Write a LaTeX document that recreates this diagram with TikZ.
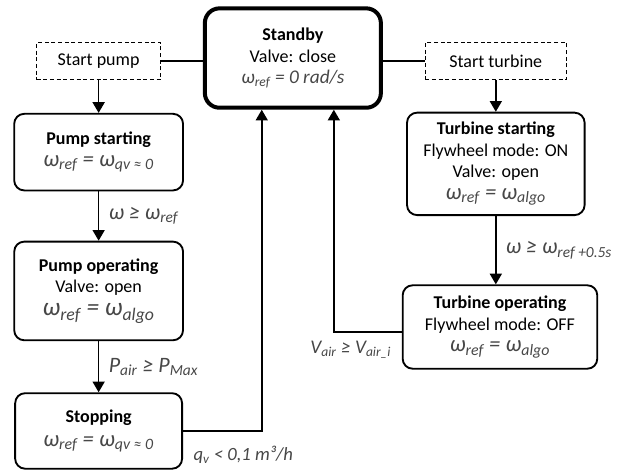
\documentclass[tikz,border=0pt]{standalone}
\usepackage{fontspec}
\setmainfont{Carlito}
\usetikzlibrary{positioning,arrows.meta,calc}

\newcommand{\ix}[1]{\textsubscript{#1}}
\newcommand{\eqtxt}[2][14.5]{{\fontsize{#1}{#1pt}\selectfont\itshape\color{black!72}#2}}

\begin{document}
\begin{tikzpicture}[
  font=\fontsize{13.5}{16.2}\selectfont,
  >={Triangle[length=8pt,width=9pt]},
  state/.style={draw=black, line width=1.4pt, rounded corners=7.5pt, align=center, inner sep=2pt},
  trigger/.style={draw=black, line width=0.9pt, dash pattern=on 3pt off 2pt, minimum height=0.98cm, align=center},
  flow/.style={->, line width=1.2pt},
  link/.style={line width=1.2pt},
  cond/.style={font=\fontsize{16.5}{18}\selectfont\itshape, text=black!72, inner sep=2pt}
]
  \useasboundingbox (0,0) rectangle (16.66,-12.47);

  % centre
  \node[state, line width=3pt, rounded corners=11pt, minimum width=4.64cm, minimum height=2.62cm] (standby) at (7.72,-1.53)
    {\textbf{Standby}\\Valve: close\\\eqtxt{ω\ix{ref} = 0 rad/s}};

  % pump side
  \node[trigger, minimum width=3.27cm] (startpump) at (2.60,-1.61) {Start pump};
  \node[state, minimum width=4.45cm, minimum height=2.02cm] (pumpstart) at (2.60,-4.01)
    {\textbf{Pump starting}\\\eqtxt[17]{ω\ix{ref} = ω\ix{qv ≈ 0}}};
  \node[state, minimum width=4.45cm, minimum height=2.60cm] (pumpop) at (2.60,-7.67)
    {\textbf{Pump operating}\\Valve: open\\[1pt]\eqtxt[19]{ω\ix{ref} = ω\ix{algo}}};
  \node[state, minimum width=4.40cm, minimum height=1.99cm] (stopping) at (2.60,-11.36)
    {\textbf{Stopping}\\[2pt]\eqtxt[17]{ω\ix{ref} = ω\ix{qv ≈ 0}}};

  % turbine side
  \node[trigger, minimum width=3.72cm] (startturb) at (13.07,-1.61) {Start turbine};
  \node[state, minimum width=4.68cm, minimum height=2.70cm] (turbstart) at (13.07,-4.32)
    {\textbf{Turbine starting}\\Flywheel mode: ON\\Valve: open\\\eqtxt[17]{ω\ix{ref} = ω\ix{algo}}};
  \node[state, minimum width=5.13cm, minimum height=2.20cm] (turbop) at (13.18,-8.62)
    {\textbf{Turbine operating}\\Flywheel mode: OFF\\\eqtxt[17]{ω\ix{ref} = ω\ix{algo}}};

  \draw[link] (startpump) -- (startpump -| standby.west);
  \draw[link] (startturb) -- (startturb -| standby.east);

  \draw[flow] (startpump) -- (pumpstart);
  \draw[flow] (pumpstart) -- node[cond, right=5pt] {ω ≥ ω\ix{ref}} (pumpop);
  \draw[flow] (pumpop) -- node[cond, right=5pt] {P\ix{air} ≥ P\ix{Max}} (stopping);

  \draw[flow] (startturb) -- (turbstart);
  \draw[flow] (turbstart) -- node[cond, right=5pt] {ω ≥ ω\ix{ref +0.5s}} (turbstart |- turbop.north);

  % back to standby
  \draw[flow] (stopping.east) -| ([xshift=-0.82cm]standby.south);
  \node[cond, font=\fontsize{14}{16}\selectfont\itshape, anchor=west] (qvlbl) at ($(stopping.east)+(0.20,-0.63)$) {q\ix{v} < 0,1 m³/h};
  \draw[flow] ([yshift=-0.13cm]turbop.west) -| ([xshift=1.08cm]standby.south);
  \node[cond, font=\fontsize{14.5}{16}\selectfont\itshape, anchor=east] (vairlbl) at ($(turbop.west)+(-0.20,-0.60)$) {V\ix{air} ≥ V\ix{air\_i}};
\end{tikzpicture}
\end{document}
